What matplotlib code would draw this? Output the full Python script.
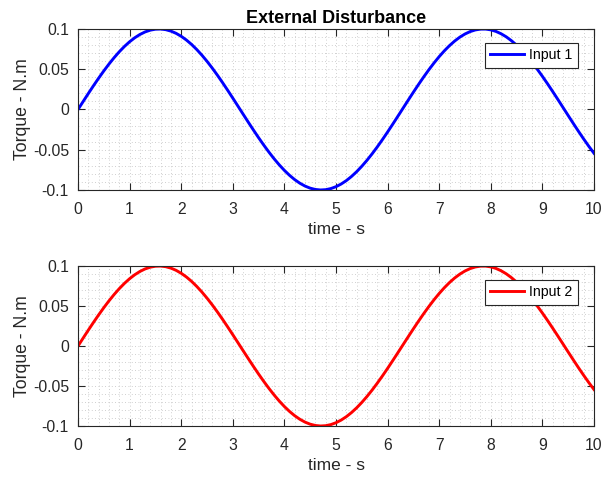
import matplotlib
matplotlib.use("Agg")
import matplotlib.pyplot as plt
from matplotlib.ticker import MultipleLocator

plt.rcParams["font.family"] = ["Liberation Sans", "DejaVu Sans"]

# time axis and disturbance torque (0.1 s steps)
time = [round(0.1 * k, 1) for k in range(101)]
input1 = [
    0.0, 0.00998, 0.01987, 0.02955, 0.03894, 0.04794, 0.05646, 0.06442, 0.07174, 0.07833,
    0.08415, 0.08912, 0.09320, 0.09636, 0.09854, 0.09975, 0.09996, 0.09917, 0.09738, 0.09463,
    0.09093, 0.08632, 0.08085, 0.07457, 0.06755, 0.05985, 0.05155, 0.04274, 0.03350, 0.02392,
    0.01411, 0.00416, -0.00584, -0.01577, -0.02555, -0.03508, -0.04425, -0.05298, -0.06119, -0.06878,
    -0.07568, -0.08183, -0.08716, -0.09162, -0.09516, -0.09775, -0.09937, -0.09999, -0.09962, -0.09825,
    -0.09589, -0.09258, -0.08835, -0.08323, -0.07728, -0.07055, -0.06313, -0.05507, -0.04646, -0.03739,
    -0.02794, -0.01822, -0.00831, 0.00168, 0.01165, 0.02151, 0.03115, 0.04048, 0.04941, 0.05784,
    0.06570, 0.07290, 0.07937, 0.08504, 0.08987, 0.09380, 0.09679, 0.09882, 0.09985, 0.09989,
    0.09894, 0.09699, 0.09407, 0.09022, 0.08546, 0.07985, 0.07344, 0.06630, 0.05849, 0.05010,
    0.04121, 0.03191, 0.02229, 0.01245, 0.00248, -0.00752, -0.01743, -0.02718, -0.03665, -0.04575,
    -0.05440,
]
input2 = list(input1)

yticks = [-0.1, -0.05, 0, 0.05, 0.1]
yticklabels = ["-0.1", "-0.05", "0", "0.05", "0.1"]

axcol = "#262626"

fig = plt.figure(figsize=(6.02, 4.8), dpi=100)
ax1 = fig.add_axes([0.1296, 0.6042, 0.8571, 0.3354])
ax2 = fig.add_axes([0.1296, 0.1125, 0.8571, 0.3333])

for ax, y, col, lab in [(ax1, input1, "#0000ff", "Input 1"), (ax2, input2, "#ff0000", "Input 2")]:
    ax.plot(time, y, color=col, lw=2.1, label=lab)
    ax.set_xlim(0, 10)
    ax.set_ylim(-0.1, 0.1)
    ax.set_xticks(range(11))
    ax.set_yticks(yticks)
    ax.set_yticklabels(yticklabels)
    ax.xaxis.set_minor_locator(MultipleLocator(0.2))
    ax.yaxis.set_minor_locator(MultipleLocator(0.01))
    ax.grid(which="minor", ls=(0, (1, 3)), color="#c0c0c0", lw=0.6)
    ax.grid(which="major", ls=(0, (1, 3)), color="#c0c0c0", lw=0.6)
    ax.tick_params(which="major", direction="in", length=5, width=0.8, top=True, right=True,
                   labelsize=11.3, colors=axcol)
    ax.tick_params(axis="x", which="major", pad=8.5)
    ax.tick_params(axis="y", which="major", pad=6.5)
    ax.tick_params(which="minor", length=0, top=True, right=True)
    for s in ax.spines.values():
        s.set_color(axcol)
        s.set_linewidth(0.8)
    ax.set_xlabel("time - s", fontsize=12.5, color=axcol, labelpad=4)
    ax.set_ylabel("Torque - N.m", fontsize=12.7, color=axcol, labelpad=1.5)
    leg = ax.legend(loc="upper right", bbox_to_anchor=(0.969, 0.913), fontsize=10.2,
                    fancybox=False, framealpha=1, edgecolor=axcol, handlelength=2.35,
                    borderpad=0.38, handletextpad=0.4, borderaxespad=0)
    leg.get_frame().set_linewidth(0.8)

ax1.set_title("External Disturbance", fontsize=13, fontweight="bold", pad=4)

fig.savefig("out.png", dpi=100)
